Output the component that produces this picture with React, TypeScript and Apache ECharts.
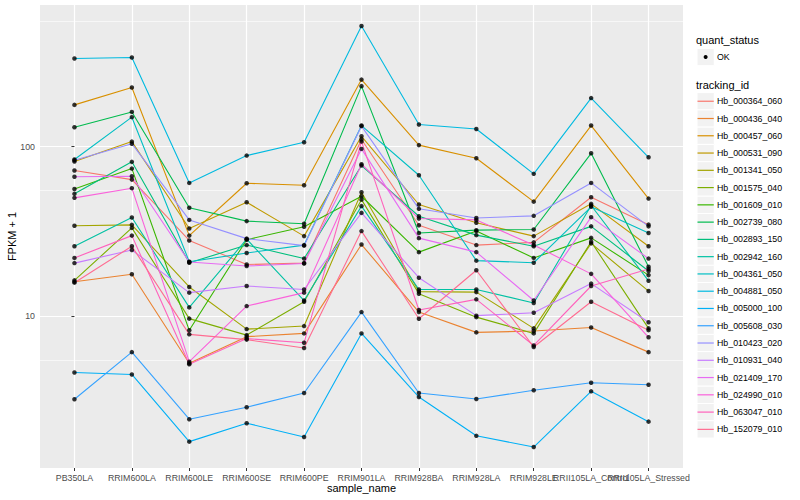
import React, { useEffect, useRef } from 'react';
import * as echarts from 'echarts';

const categories = ['PB350LA', 'RRIM600LA', 'RRIM600LE', 'RRIM600SE', 'RRIM600PE', 'RRIM901LA', 'RRIM928BA', 'RRIM928LA', 'RRIM928LE', 'RRII105LA_Control', 'RRII105LA_Stressed'];

const trackingIds = ['Hb_000364_060', 'Hb_000436_040', 'Hb_000457_060', 'Hb_000531_090', 'Hb_001341_050', 'Hb_001575_040', 'Hb_001609_010', 'Hb_002739_080', 'Hb_002893_150', 'Hb_002942_160', 'Hb_004361_050', 'Hb_004881_050', 'Hb_005000_100', 'Hb_005608_030', 'Hb_010423_020', 'Hb_010931_040', 'Hb_021409_170', 'Hb_024990_010', 'Hb_063047_010', 'Hb_152079_010'];

// FPKM + 1 per sample, in category order
const hb_000364_060 = [72.3, 63.9, 28.0, 20.2, 20.6, 110, 34.4, 26.3, 27.3, 50.3, 34.7];
const hb_000436_040 = [16.0, 17.7, 5.3, 7.6, 7.94, 26.5, 10.6, 8.05, 8.2, 8.61, 6.16];
const hb_000457_060 = [176, 223, 29.9, 60.8, 59.2, 248, 102, 85.3, 47.4, 133, 49.4];
const hb_000531_090 = [81.6, 107, 32.9, 47.0, 29.7, 115, 45.6, 35.6, 29.7, 46.0, 25.9];
const hb_001341_050 = [34.2, 34.6, 14.9, 8.42, 8.77, 53.8, 14.0, 13.9, 8.5, 26.9, 14.1];
const hb_001575_040 = [16.3, 33.2, 9.7, 7.76, 12.2, 48.7, 13.6, 9.9, 7.94, 27.5, 8.5];
const hb_001609_010 = [56.3, 74.2, 8.28, 28.3, 33.7, 51, 23.9, 31.8, 22.1, 29.0, 17.5];
const hb_002739_080 = [130, 160, 43.6, 36.4, 35.1, 227, 31.0, 32.2, 32.5, 91.3, 19.6];
const hb_002893_150 = [52.7, 81.3, 20.7, 26.3, 21.9, 77.3, 38.9, 30.1, 25.9, 33.9, 18.5];
const hb_002942_160 = [25.9, 38.2, 11.3, 28.5, 12.4, 44.6, 14.4, 14.4, 12.0, 45, 16.2];
const hb_004361_050 = [83.9, 149, 21.0, 23.6, 26.3, 133, 67.8, 21.3, 20.7, 44.2, 31.0];
const hb_004881_050 = [330, 335, 61.1, 88.5, 106, 513, 135, 127, 69.1, 193, 86.5];
const hb_005000_100 = [4.67, 4.55, 1.83, 2.35, 1.95, 7.94, 3.35, 1.98, 1.70, 3.62, 2.40];
const hb_005608_030 = [3.25, 6.16, 2.48, 2.92, 3.54, 10.6, 3.54, 3.26, 3.67, 4.07, 3.96];
const hb_010423_020 = [83, 104, 37.0, 28.7, 26.1, 132, 43.0, 38.0, 39.1, 61.1, 33.9];
const hb_010931_040 = [20.6, 24.6, 13.8, 15.1, 14.4, 40.7, 16.9, 10.1, 10.5, 15.6, 9.23];
const hb_021409_170 = [66.4, 66.9, 20.9, 19.8, 20.5, 96.9, 28.9, 23.9, 12.4, 38.4, 21.9];
const hb_024990_010 = [49.9, 56.9, 5.41, 11.5, 13.8, 78.7, 37.7, 37.0, 26.3, 17.8, 7.53];
const hb_063047_010 = [22.1, 29.9, 5.22, 7.40, 7.0, 107, 10.9, 12.6, 6.74, 15.1, 19];
const hb_152079_010 = [15.8, 25.9, 7.84, 7.3, 6.51, 31.8, 9.69, 18.7, 6.6, 12.2, 8.3];

const seriesValues = [hb_000364_060, hb_000436_040, hb_000457_060, hb_000531_090, hb_001341_050, hb_001575_040, hb_001609_010, hb_002739_080, hb_002893_150, hb_002942_160, hb_004361_050, hb_004881_050, hb_005000_100, hb_005608_030, hb_010423_020, hb_010931_040, hb_021409_170, hb_024990_010, hb_063047_010, hb_152079_010];

const quantStatus = ['OK'];
const yTickValues = [10, 100];

const palette = ['#F8766D', '#EA8331', '#D89000', '#C09B00', '#A3A500', '#7CAE00', '#39B600', '#00BB4E', '#00BF7D', '#00C1A3', '#00BFC4', '#00BAE0', '#00B0F6', '#35A2FF', '#9590FF', '#C77CFF', '#E76BF3', '#FA62DB', '#FF62BC', '#FF6C91'];

const FONT = '"Liberation Sans", Arial, Helvetica, sans-serif';

function buildLegend() {
  const els: any[] = [];
  const kx = 697;
  const ks = 17.27;
  els.push({ type: 'text', x: 696, y: 40, style: { text: 'quant_status', fontSize: 11, fill: '#000', fontFamily: FONT, verticalAlign: 'middle', align: 'left' } });
  els.push({ type: 'rect', shape: { x: kx, y: 48.4, width: ks, height: ks }, style: { fill: '#F2F2F2', stroke: '#fff', lineWidth: 1 } });
  els.push({ type: 'circle', shape: { cx: kx + ks / 2, cy: 48.4 + ks / 2, r: 2 }, style: { fill: '#000' } });
  els.push({ type: 'text', x: 717, y: 48.4 + ks / 2, style: { text: quantStatus[0], fontSize: 8.8, fill: '#000', fontFamily: FONT, verticalAlign: 'middle', align: 'left' } });
  els.push({ type: 'text', x: 696, y: 85, style: { text: 'tracking_id', fontSize: 11, fill: '#000', fontFamily: FONT, verticalAlign: 'middle', align: 'left' } });
  trackingIds.forEach((id, i) => {
    const top = 92.6 + i * ks;
    const cy = top + ks / 2;
    els.push({ type: 'rect', shape: { x: kx, y: top, width: ks, height: ks }, style: { fill: '#F2F2F2', stroke: '#fff', lineWidth: 1 } });
    els.push({ type: 'line', shape: { x1: kx + 0.5, y1: cy, x2: kx + ks - 0.5, y2: cy }, style: { stroke: palette[i], lineWidth: 1.2 } });
    els.push({ type: 'text', x: 717, y: cy, style: { text: id, fontSize: 8.8, fill: '#000', fontFamily: FONT, verticalAlign: 'middle', align: 'left' } });
  });
  return els;
}

export default function App() {
  const ref = useRef<HTMLDivElement>(null);
  useEffect(() => {
    if (!ref.current) return;
    const chart = echarts.init(ref.current, null, { renderer: 'svg' });
    const catIdx = categories.map((_, i) => i);
    const lineSeries = trackingIds.map((id, si) => ({
      name: id,
      type: 'line',
      xAxisIndex: 0,
      yAxisIndex: 0,
      data: seriesValues[si].map((v, i) => [i, v]),
      symbol: 'none',
      lineStyle: { color: palette[si], width: 1.1 },
      itemStyle: { color: palette[si] },
      z: 2,
      silent: true,
    }));
    const points: number[][] = [];
    seriesValues.forEach((arr) => arr.forEach((v, i) => points.push([i, v])));
    // panel spans 11.2 category units (0.6 padding each side); grid 1 is inset by 0.1 unit so its bands centre on the categories
    const unit = (800 - 40 - 117) / 11.2;
    const inset = unit * 0.1;
    const option: any = {
      animation: false,
      textStyle: { fontFamily: FONT },
      grid: [
        { left: 40, right: 117, top: 5, bottom: 32, show: true, backgroundColor: '#EBEBEB', borderWidth: 0, containLabel: false, outerBoundsMode: 'none' },
        { left: 40 + inset, right: 117 + inset, top: 5, bottom: 32, show: false, containLabel: false, outerBoundsMode: 'none' },
      ],
      xAxis: [
        {
          type: 'value',
          gridIndex: 0,
          min: -0.6,
          max: 10.6,
          splitNumber: 11,
          axisLine: { show: false },
          axisTick: { show: false, customValues: catIdx },
          axisLabel: { show: false, customValues: catIdx },
          splitLine: { show: true, lineStyle: { color: '#FFFFFF', width: 1.2 } },
          name: 'sample_name',
          nameLocation: 'middle',
          nameGap: 14,
          nameMoveOverlap: false,
          nameTextStyle: { color: '#000', fontSize: 11, fontFamily: FONT },
        },
        {
          type: 'category',
          gridIndex: 1,
          data: categories,
          boundaryGap: true,
          axisLine: { show: false },
          axisTick: { show: true, interval: 0, alignWithLabel: true, length: 3, lineStyle: { color: '#333333', width: 1 } },
          axisLabel: { interval: 0, color: '#4D4D4D', fontSize: 8.8, margin: 5, fontFamily: FONT },
          splitLine: { show: false },
        },
      ],
      yAxis: [
        {
          type: 'log',
          gridIndex: 0,
          logBase: 10,
          min: 1.28,
          max: 682,
          axisLine: { show: false },
          axisTick: { show: true, length: 3, lineStyle: { color: '#333333', width: 1 }, customValues: yTickValues },
          axisLabel: { customValues: yTickValues, formatter: (v: number) => (yTickValues.some((t) => Math.abs(t - v) < 1e-6) ? String(Math.round(v)) : ''), color: '#4D4D4D', fontSize: 8.8, margin: 5, fontFamily: FONT },
          splitLine: { show: true, lineStyle: { color: '#FFFFFF', width: 1.2 } },
          minorTick: { show: false, splitNumber: 2 },
          minorSplitLine: { show: true, lineStyle: { color: '#FFFFFF', width: 0.6 } },
          name: 'FPKM + 1',
          nameLocation: 'middle',
          nameGap: 22.5,
          nameMoveOverlap: false,
          nameTextStyle: { color: '#000', fontSize: 11, fontFamily: FONT },
        },
        { type: 'value', gridIndex: 1, show: false },
      ],
      series: [
        ...lineSeries,
        {
          name: quantStatus[0],
          type: 'scatter',
          xAxisIndex: 0,
          yAxisIndex: 0,
          data: points,
          symbol: 'circle',
          symbolSize: 4.5,
          itemStyle: { color: '#000000' },
          z: 3,
          silent: true,
        },
      ],
      graphic: buildLegend(),
    };
    chart.setOption(option);
    return () => chart.dispose();
  }, []);
  return <div ref={ref} style={{ position: 'absolute', left: 0, top: 0, width: 800, height: 500 }} />;
}
